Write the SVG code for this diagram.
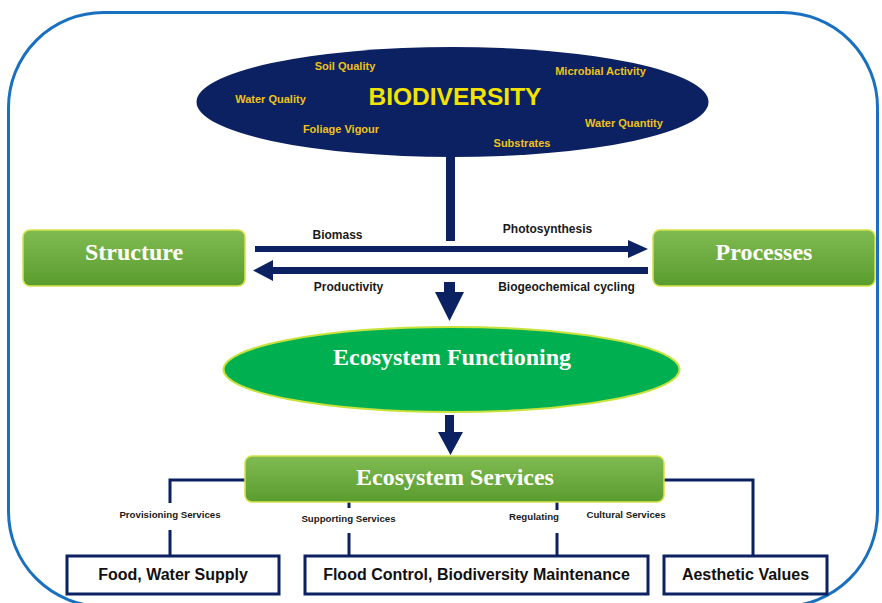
<svg xmlns="http://www.w3.org/2000/svg" width="882" height="603" viewBox="0 0 882 603">
<defs>
<linearGradient id="gbox" x1="0" y1="0" x2="0" y2="1">
<stop offset="0" stop-color="#80bb52"/>
<stop offset="1" stop-color="#5a9c2e"/>
</linearGradient>
<style>
.navy{fill:#0b2161}
.lbl{font-family:"Liberation Sans",Arial,sans-serif;font-weight:bold;fill:#f0c21a;font-size:11px;text-anchor:middle}
.arrlbl{font-family:"Liberation Sans",Arial,sans-serif;font-weight:bold;fill:#1a1a1a;font-size:12px;text-anchor:middle}
.svc{font-family:"Liberation Sans",Arial,sans-serif;font-weight:bold;fill:#1a1a1a;font-size:9.7px;text-anchor:middle}
.gbox{fill:url(#gbox);stroke:#d5e44a;stroke-width:1.5}
.gtxt{font-family:"Liberation Serif","Times New Roman",serif;font-weight:bold;fill:#ffffff;font-size:24px;text-anchor:middle}
.wbox{fill:#ffffff;stroke:#0b2161;stroke-width:3}
.btxt{font-family:"Liberation Sans",Arial,sans-serif;font-weight:bold;fill:#111111;font-size:16px;text-anchor:middle}
.conn{fill:none;stroke:#0b2161;stroke-width:3}
</style>
</defs>
<rect x="0" y="0" width="882" height="603" fill="#ffffff"/>
<rect x="8.5" y="12.5" width="869" height="594" rx="95" ry="95" fill="none" stroke="#1a70c0" stroke-width="3"/>

<g id="connectors">
<rect class="navy" x="446" y="150" width="9" height="91"/>
<rect class="navy" x="255" y="246" width="375" height="6"/>
<polygon class="navy" points="628,240 648,249 628,258"/>
<rect class="navy" x="272" y="267" width="376" height="7"/>
<polygon class="navy" points="273,260 253,270.5 273,281"/>
<polygon class="navy" points="444,282 455,282 455,292 464,292 449.5,321 435,292 444,292"/>
<polygon class="navy" points="445,415 454,415 454,432 463,432 450.5,455 438,432 445,432"/>
<polyline class="conn" points="245,480 170,480 170,503"/>
<line class="conn" x1="170" y1="530" x2="170" y2="556"/>
<line class="conn" x1="349" y1="502" x2="349" y2="508"/>
<line class="conn" x1="349" y1="533" x2="349" y2="556"/>
<line class="conn" x1="557" y1="502" x2="557" y2="510"/>
<line class="conn" x1="557" y1="533" x2="557" y2="556"/>
<polyline class="conn" points="664,480 753,480 753,556"/>
<text class="arrlbl" x="337.5" y="239">Biomass</text>
<text class="arrlbl" x="547.5" y="233">Photosynthesis</text>
<text class="arrlbl" x="348.5" y="291">Productivity</text>
<text class="arrlbl" x="566.5" y="291">Biogeochemical cycling</text>
<text class="svc" x="170" y="518">Provisioning Services</text>
<text class="svc" x="348.5" y="522">Supporting Services</text>
<text class="svc" x="559" y="520" text-anchor="end" style="text-anchor:end">Regulating</text>
<text class="svc" x="626" y="518">Cultural Services</text>
</g>

<g id="biodiversity">
<ellipse cx="452.5" cy="102" rx="256" ry="55" fill="#0b2161"/>
<text x="455" y="105" font-family="'Liberation Sans',Arial,sans-serif" font-weight="bold" font-size="24.5" fill="#f2e400" text-anchor="middle">BIODIVERSITY</text>
<text class="lbl" x="345" y="70">Soil Quality</text>
<text class="lbl" x="600.5" y="75">Microbial Activity</text>
<text class="lbl" x="270.5" y="103">Water Quality</text>
<text class="lbl" x="341" y="133">Foliage Vigour</text>
<text class="lbl" x="624" y="127">Water Quantity</text>
<text class="lbl" x="522" y="147">Substrates</text>
</g>

<g id="structure">
<rect class="gbox" x="23" y="230" width="222" height="56" rx="7"/>
<text class="gtxt" x="134" y="260">Structure</text>
</g>

<g id="processes">
<rect class="gbox" x="653" y="230" width="222" height="56" rx="7"/>
<text class="gtxt" x="764" y="260">Processes</text>
</g>

<g id="ecosystem-functioning">
<ellipse cx="451.5" cy="369.5" rx="228" ry="42.5" fill="#00b050" stroke="#c9e23c" stroke-width="2"/>
<text class="gtxt" x="452" y="365">Ecosystem Functioning</text>
</g>

<g id="ecosystem-services">
<rect class="gbox" x="245" y="456" width="419" height="46" rx="7"/>
<text class="gtxt" x="455" y="485">Ecosystem Services</text>
</g>

<g id="food">
<rect class="wbox" x="67" y="556" width="212" height="38"/>
<text class="btxt" x="173" y="580">Food, Water Supply</text>
</g>

<g id="flood">
<rect class="wbox" x="305" y="556" width="343" height="38"/>
<text class="btxt" x="476.5" y="580">Flood Control, Biodiversity Maintenance</text>
</g>

<g id="aesthetic">
<rect class="wbox" x="664" y="556" width="163" height="38"/>
<text class="btxt" x="745.5" y="580">Aesthetic Values</text>
</g>
</svg>
